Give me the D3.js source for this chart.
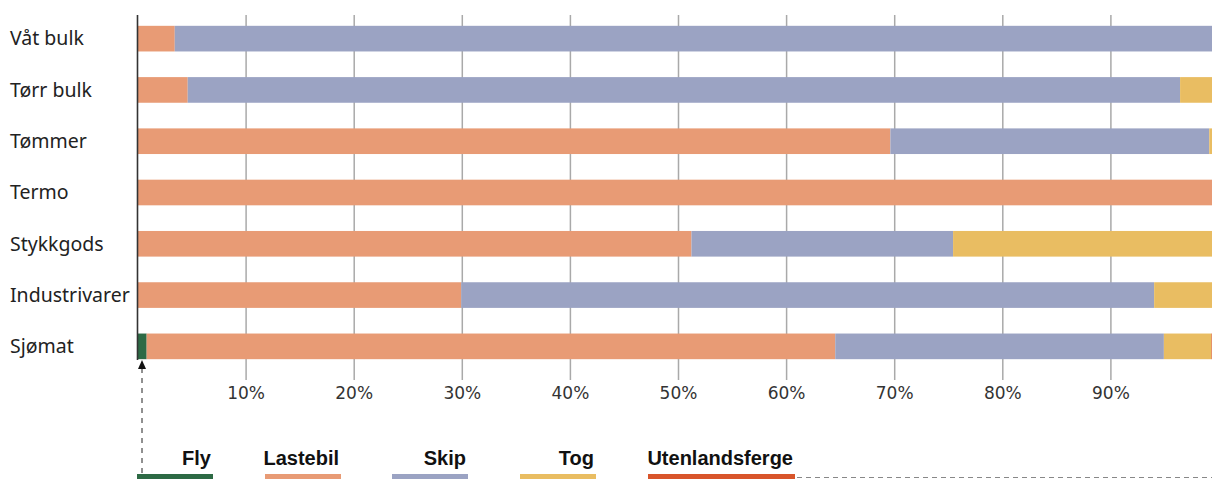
<!DOCTYPE html>
<html>
<head>
<meta charset="utf-8">
<script src="https://cdn.jsdelivr.net/npm/d3@7"></script>
<style>
  body { margin: 0; background: #fff; }
  svg { display: block; }
</style>
</head>
<body>
<div id="chart-container"></div>
<script>
(() => {
  // Categories (top to bottom)
  const categories = ["Våt bulk", "Tørr bulk", "Tømmer", "Termo", "Stykkgods", "Industrivarer", "Sjømat"];

  // Share per transport mode, percent
  const fly            = [0,    0,    0,    0,    0,    0,    0.8];
  const lastebil       = [3.4,  4.6,  69.6, 100,  51.2, 29.9, 63.7];
  const skip           = [96.6, 91.8, 29.5, 0,    24.2, 64.1, 30.4];
  const tog            = [0,    3.6,  0.9,  0,    24.6, 6.0,  4.4];
  const utenlandsferge = [0,    0,    0,    0,    0,    0,    0.7];

  const seriesNames = ["Fly", "Lastebil", "Skip", "Tog", "Utenlandsferge"];
  const seriesColors = ["#2d6a45", "#e89b75", "#9ba3c3", "#e9bd62", "#d8552b"];
  const tickValues = [10, 20, 30, 40, 50, 60, 70, 80, 90];

  const width = 1212, height = 479;

  const svg = d3.select("#chart-container")
    .append("svg")
    .attr("width", width)
    .attr("height", height);

  // Scales
  const xScale = d3.scaleLinear().domain([0, 100]).range([138, 1219]);
  const yScale = d3.scaleBand()
    .domain(categories)
    .range([13, 372])
    .paddingInner(0.5)
    .paddingOuter(0.25);
  const color = d3.scaleOrdinal().domain(seriesNames).range(seriesColors);

  // Build rows for the stack
  const rows = categories.map((c, i) => ({
    cat: c,
    Fly: fly[i],
    Lastebil: lastebil[i],
    Skip: skip[i],
    Tog: tog[i],
    Utenlandsferge: utenlandsferge[i]
  }));
  const stacked = d3.stack().keys(seriesNames)(rows);

  // Gridlines
  svg.append("g")
    .selectAll("line")
    .data(tickValues)
    .enter().append("line")
    .attr("x1", d => xScale(d))
    .attr("x2", d => xScale(d))
    .attr("y1", 15)
    .attr("y2", 380)
    .attr("stroke", "#a9a9a9")
    .attr("stroke-width", 1.5);

  // Bars
  svg.append("g")
    .selectAll("g")
    .data(stacked)
    .enter().append("g")
    .attr("fill", d => color(d.key))
    .selectAll("rect")
    .data(d => d)
    .enter().append("rect")
    .attr("x", d => xScale(d[0]))
    .attr("y", d => yScale(d.data.cat))
    .attr("width", d => Math.max(0, xScale(d[1]) - xScale(d[0])))
    .attr("height", yScale.bandwidth());

  // Left axis line
  svg.append("line")
    .attr("x1", xScale(0) - 0.5)
    .attr("x2", xScale(0) - 0.5)
    .attr("y1", 15)
    .attr("y2", 360)
    .attr("stroke", "#333")
    .attr("stroke-width", 1.6);

  // X tick labels
  svg.append("g")
    .selectAll("text")
    .data(tickValues)
    .enter().append("text")
    .attr("x", d => xScale(d))
    .attr("y", 399)
    .attr("text-anchor", "middle")
    .style("font-family", "'DejaVu Sans', sans-serif")
    .style("font-size", "17px")
    .attr("fill", "#333")
    .text(d => d + "%");

  // Category labels
  svg.append("g")
    .selectAll("text")
    .data(categories)
    .enter().append("text")
    .attr("x", 10)
    .attr("y", d => yScale(d) + yScale.bandwidth() / 2)
    .attr("dy", "0.35em")
    .style("font-family", "'Noto Sans', sans-serif")
    .style("font-size", "19.5px")
    .attr("fill", "#222")
    .text(d => d);

  // Legend
  const legendX = [137, 265, 392, 520, 648];
  const legendW = [76, 76, 76, 76, 147];
  const legend = svg.append("g")
    .selectAll("g")
    .data(seriesNames)
    .enter().append("g");

  legend.append("rect")
    .attr("x", (d, i) => legendX[i])
    .attr("y", 474)
    .attr("width", (d, i) => legendW[i])
    .attr("height", 6)
    .attr("fill", d => color(d));

  legend.append("text")
    .attr("x", (d, i) => legendX[i] + legendW[i] - 2)
    .attr("y", 465)
    .attr("text-anchor", "end")
    .style("font-family", "'Liberation Sans Narrow', 'Liberation Sans', sans-serif")
    .style("font-weight", "bold")
    .style("font-size", "20px")
    .attr("fill", "#111")
    .text(d => d);

  // Dashed pointer from Fly legend to the Sjømat bar
  const arrowX = 142;
  svg.append("line")
    .attr("x1", arrowX)
    .attr("x2", arrowX)
    .attr("y1", 368)
    .attr("y2", 474)
    .attr("stroke", "#222")
    .attr("stroke-width", 1)
    .attr("stroke-dasharray", "5,5");

  svg.append("path")
    .attr("d", `M${arrowX},360 L${arrowX - 4},369 L${arrowX + 4},369 Z`)
    .attr("fill", "#111");

  // Dashed line after the legend
  svg.append("line")
    .attr("x1", 797)
    .attr("x2", 1212)
    .attr("y1", 477.5)
    .attr("y2", 477.5)
    .attr("stroke", "#888")
    .attr("stroke-width", 1.2)
    .attr("stroke-dasharray", "5,4");
})();
</script>
</body>
</html>
